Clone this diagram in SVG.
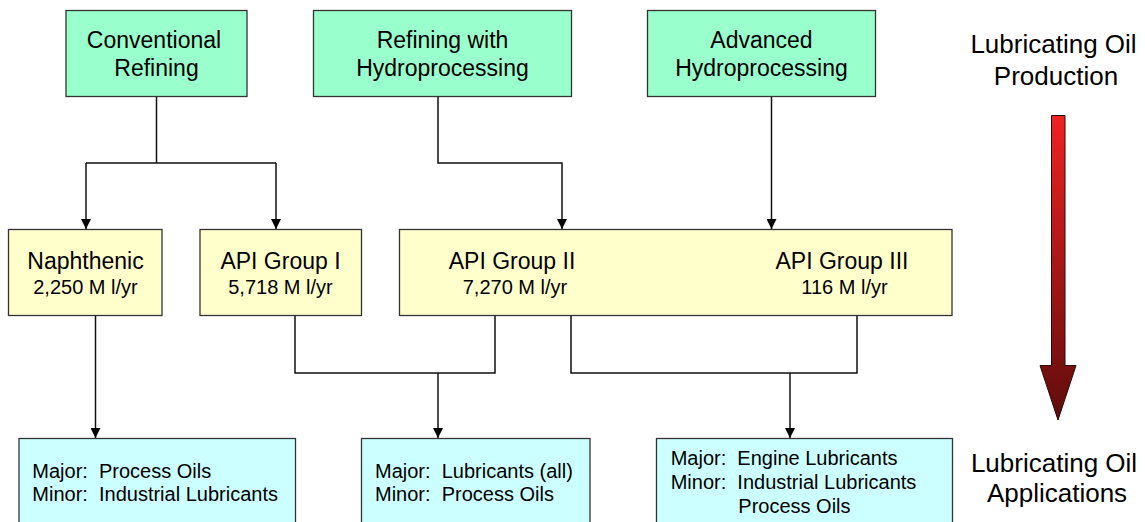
<svg xmlns="http://www.w3.org/2000/svg" width="1145" height="522" viewBox="0 0 1145 522">
<style>
text{font-family:"Liberation Sans",Arial,sans-serif;fill:#000;}
.t{font-size:23px;text-anchor:middle;}
.s{font-size:20px;text-anchor:middle;}
.b{font-size:20px;white-space:pre;}
.side{font-size:26px;text-anchor:middle;}
.top{fill:#99ffcc;stroke:#333;stroke-width:1.3;}
.mid{fill:#ffffcc;stroke:#333;stroke-width:1.3;}
.bot{fill:#ccffff;stroke:#333;stroke-width:1.3;}
.c{fill:none;stroke:#111;stroke-width:1.5;}
</style>
<defs>
<marker id="ah" viewBox="0 0 10 10" refX="10" refY="5" markerWidth="10" markerHeight="10" markerUnits="userSpaceOnUse" orient="auto">
<path d="M0,0 L10,5 L0,10 z" fill="#000"/>
</marker>
<linearGradient id="rg" x1="0" y1="0" x2="0" y2="1">
<stop offset="0" stop-color="#f02222"/>
<stop offset="1" stop-color="#5e0c0c"/>
</linearGradient>
</defs>
<g id="connectors">
<path class="c" d="M156.5,97 V163 M86,163 H276"/>
<path class="c" d="M86,163 V229" marker-end="url(#ah)"/>
<path class="c" d="M276,163 V229" marker-end="url(#ah)"/>
<path class="c" d="M438,97 V163 H562 V229" marker-end="url(#ah)"/>
<path class="c" d="M771.5,97 V229" marker-end="url(#ah)"/>
<path class="c" d="M95.5,316 V438" marker-end="url(#ah)"/>
<path class="c" d="M295,316 V373 H495 V316"/>
<path class="c" d="M438,373 V438" marker-end="url(#ah)"/>
<path class="c" d="M571,316 V373 H857 V316"/>
<path class="c" d="M790,373 V438" marker-end="url(#ah)"/>
</g>
<g id="conventional">
<rect class="top" x="66" y="10.5" width="181" height="86"/>
<text class="t" x="154" y="48">Conventional</text>
<text class="t" x="156.5" y="76">Refining</text>
</g>
<g id="hydroprocessing">
<rect class="top" x="313.5" y="10.5" width="258" height="86"/>
<text class="t" x="442.5" y="48">Refining with</text>
<text class="t" x="442.5" y="76">Hydroprocessing</text>
</g>
<g id="advanced">
<rect class="top" x="647.5" y="10.5" width="228" height="86"/>
<text class="t" x="761.5" y="48">Advanced</text>
<text class="t" x="761.5" y="76">Hydroprocessing</text>
</g>
<g id="naphthenic">
<rect class="mid" x="8.5" y="229.5" width="153.5" height="86"/>
<text class="t" x="85.5" y="269">Naphthenic</text>
<text class="s" x="85.5" y="294">2,250 M l/yr</text>
</g>
<g id="group1">
<rect class="mid" x="200" y="229.5" width="161.5" height="86"/>
<text class="t" x="280.5" y="269">API Group I</text>
<text class="s" x="280.5" y="294">5,718 M l/yr</text>
</g>
<g id="group23">
<rect class="mid" x="399.5" y="229.5" width="552.5" height="86"/>
<text class="t" x="512" y="269">API Group II</text>
<text class="s" x="515" y="294">7,270 M l/yr</text>
<text class="t" x="842" y="269">API Group III</text>
<text class="s" x="844.5" y="294">116 M l/yr</text>
</g>
<g id="app1">
<rect class="bot" x="19" y="438.5" width="276.5" height="95"/>
<text class="b" x="32.3" y="477.5">Major:  Process Oils</text>
<text class="b" x="32.3" y="501">Minor:  Industrial Lubricants</text>
</g>
<g id="app2">
<rect class="bot" x="361.5" y="438.5" width="228.5" height="95"/>
<text class="b" x="375" y="477.5">Major:  Lubricants (all)</text>
<text class="b" x="375" y="501">Minor:  Process Oils</text>
</g>
<g id="app3">
<rect class="bot" x="656.5" y="438.5" width="296" height="95"/>
<text class="b" x="670.7" y="465">Major:  Engine Lubricants</text>
<text class="b" x="670.7" y="489.3">Minor:  Industrial Lubricants</text>
<text class="b" x="738.3" y="513.3">Process Oils</text>
</g>
<g id="production-label">
<text class="side" x="1053.5" y="53">Lubricating Oil</text>
<text class="side" x="1056" y="85">Production</text>
</g>
<g id="flow-arrow">
<path d="M1051.5,115.5 H1065 V365.5 H1076 L1058,420 L1040,365.5 H1051.5 Z" fill="url(#rg)" stroke="#2a0a0a" stroke-width="1"/>
</g>
<g id="applications-label">
<text class="side" x="1054" y="471.5">Lubricating Oil</text>
<text class="side" x="1057" y="501.5">Applications</text>
</g>
</svg>
